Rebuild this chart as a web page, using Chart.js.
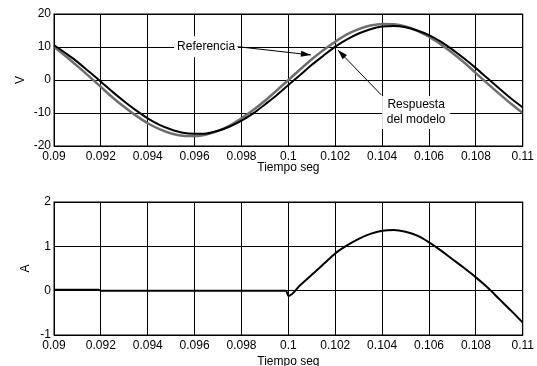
<!DOCTYPE html>
<html>
<head>
<meta charset="utf-8">
<script src="https://cdn.jsdelivr.net/npm/chart.js@4"></script>
<style>
  body { margin: 0; background: #fff; }
  #wrap { position: relative; width: 537px; height: 366px; }
  canvas { position: absolute; left: 0; }
</style>
</head>
<body>
<div id="wrap">
  <canvas id="top" width="537" height="180" style="top:0"></canvas>
  <canvas id="bottom" width="537" height="186" style="top:180px"></canvas>
</div>
<script>
'use strict';

// time axis (s) for the voltage plot
const tVolt = [0.09, 0.0905, 0.091, 0.0915, 0.092, 0.0925, 0.093, 0.0935, 0.094, 0.0945,
  0.095, 0.0955, 0.096, 0.0965, 0.097, 0.0975, 0.098, 0.0985, 0.099, 0.0995,
  0.1, 0.1005, 0.101, 0.1015, 0.102, 0.1025, 0.103, 0.1035, 0.104, 0.1045,
  0.105, 0.1055, 0.106, 0.1065, 0.107, 0.1075, 0.108, 0.1085, 0.109, 0.1095, 0.11];
// Referencia (gray)
const vRef = [10.0, 7.2, 4.2, 1.1, -2.1, -5.3, -8.2, -10.8, -13.1, -14.9,
  -16.2, -16.9, -17.0, -16.5, -15.4, -13.8, -11.6, -9.1, -6.3, -3.2,
  0, 3.2, 6.3, 9.1, 11.6, 13.8, 15.4, 16.5, 17.0, 16.9,
  16.2, 14.9, 13.1, 10.8, 8.2, 5.3, 2.1, -1.1, -4.2, -7.2, -10.0];
// Respuesta del modelo (black)
const vModel = [10.6, 8.1, 5.5, 2.5, -0.5, -3.6, -6.5, -9.2, -11.6, -13.6,
  -15.0, -16.0, -16.3, -16.2, -15.4, -14.1, -12.3, -10.1, -7.4, -4.6,
  -1.5, 1.5, 4.6, 7.4, 10.1, 12.3, 14.1, 15.4, 16.2, 16.4,
  16.0, 15.0, 13.6, 11.6, 9.2, 6.5, 3.6, 0.5, -2.6, -5.6, -8.3];

// current plot
const tCur = [0.09, 0.0919, 0.092, 0.0999, 0.1, 0.1005, 0.101, 0.1015, 0.102, 0.1025,
  0.103, 0.1035, 0.104, 0.1045, 0.105, 0.1055, 0.106, 0.1065, 0.107, 0.1075,
  0.108, 0.1085, 0.109, 0.1095, 0.11];
const iCur = [0.02, 0.02, 0, 0, -0.12, 0.12, 0.36, 0.6, 0.84, 1.02,
  1.17, 1.28, 1.35, 1.37, 1.33, 1.24, 1.09, 0.91, 0.71, 0.51,
  0.30, 0.07, -0.19, -0.45, -0.72];

const xTicks = [0.09, 0.092, 0.094, 0.096, 0.098, 0.1, 0.102, 0.104, 0.106, 0.108, 0.11];
const vTicks = [-20, -10, 0, 10, 20];
const aTicks = [-1, 0, 1, 2];

const FONT = '"Liberation Sans", Arial, sans-serif';

function pts(xs, ys) {
  return xs.map((x, i) => ({ x: x, y: ys[i] }));
}

// text notes with arrows, in data units
const notes = [
  { lines: ['Referencia'], at: [0.09649, 10.1], box: [64, 21],
    from: [0.09783, 10.1], to: [0.10096, 7.6] },
  { lines: ['Respuesta', 'del modelo'], at: [0.10545, -9.85], box: [68, 33],
    from: [0.10396, -4.5], to: [0.10211, 9.1] }
];

const notesPlugin = {
  id: 'notes',
  afterDatasetsDraw(chart) {
    const ctx = chart.ctx;
    const xs = chart.scales.x, ys = chart.scales.y;
    ctx.save();
    ctx.font = '12px ' + FONT;
    ctx.textAlign = 'center';
    ctx.textBaseline = 'middle';
    notes.forEach(n => {
      const cx = xs.getPixelForValue(n.at[0]);
      const cy = ys.getPixelForValue(n.at[1]);
      ctx.fillStyle = '#fff';
      ctx.fillRect(cx - n.box[0] / 2, cy - n.box[1] / 2, n.box[0], n.box[1]);
      ctx.fillStyle = '#000';
      const lh = 15;
      n.lines.forEach((s, i) => {
        ctx.fillText(s, cx, cy + (i - (n.lines.length - 1) / 2) * lh);
      });
      // arrow
      const x0 = xs.getPixelForValue(n.from[0]), y0 = ys.getPixelForValue(n.from[1]);
      const x1 = xs.getPixelForValue(n.to[0]), y1 = ys.getPixelForValue(n.to[1]);
      ctx.strokeStyle = '#000';
      ctx.lineWidth = 1;
      ctx.beginPath();
      ctx.moveTo(x0, y0);
      ctx.lineTo(x1, y1);
      ctx.stroke();
      const a = Math.atan2(y1 - y0, x1 - x0);
      const len = 10, w = 3;
      ctx.beginPath();
      ctx.moveTo(x1, y1);
      ctx.lineTo(x1 - len * Math.cos(a) - w * Math.sin(a), y1 - len * Math.sin(a) + w * Math.cos(a));
      ctx.lineTo(x1 - len * Math.cos(a) + w * Math.sin(a), y1 - len * Math.sin(a) - w * Math.cos(a));
      ctx.closePath();
      ctx.fill();
    });
    ctx.restore();
  }
};

function axes(yTicks, yMin, yMax, yTitle, yTitlePad, xHeight, xTitlePad) {
  return {
    x: {
      type: 'linear',
      min: 0.09,
      max: 0.11,
      afterBuildTicks: s => { s.ticks = xTicks.map(v => ({ value: v })); },
      afterFit: s => { s.height = xHeight; },
      grid: { color: '#000', lineWidth: 1, drawTicks: false },
      border: { color: '#000', width: 1 },
      ticks: {
        color: '#000', padding: 3, maxRotation: 0, autoSkip: false,
        font: { family: FONT, size: 12 },
        callback: v => String(+v.toFixed(4))
      },
      title: {
        display: true, text: 'Tiempo seg', color: '#000',
        font: { family: FONT, size: 12 },
        padding: { top: 0, bottom: xTitlePad }
      }
    },
    y: {
      min: yMin,
      max: yMax,
      afterBuildTicks: s => { s.ticks = yTicks.map(v => ({ value: v })); },
      afterFit: s => { s.width = 54; },
      grid: { color: '#000', lineWidth: 1, drawTicks: false },
      border: { color: '#000', width: 1 },
      ticks: {
        color: '#000', padding: 3,
        font: { family: FONT, size: 12 }
      },
      title: {
        display: true, text: yTitle, color: '#000',
        font: { family: FONT, size: 12 },
        padding: { top: yTitlePad, bottom: 0 }
      }
    }
  };
}

const common = {
  responsive: false,
  animation: false,
  plugins: { legend: { display: false }, tooltip: { enabled: false } },
  elements: { point: { radius: 0 } }
};

// closed frame round the plot area
const boxPlugin = {
  id: 'box',
  afterDraw(chart) {
    const a = chart.chartArea, ctx = chart.ctx;
    ctx.save();
    ctx.strokeStyle = '#000';
    ctx.lineWidth = 1;
    ctx.strokeRect(a.left, a.top, a.right - a.left, a.bottom - a.top);
    ctx.restore();
  }
};

new Chart(document.getElementById('top'), {
  type: 'line',
  data: {
    datasets: [
      { label: 'Respuesta del modelo', data: pts(tVolt, vModel), borderColor: '#000',
        borderWidth: 2, cubicInterpolationMode: 'monotone' },
      { label: 'Referencia', data: pts(tVolt, vRef), borderColor: '#6e6e6e',
        borderWidth: 2.5, cubicInterpolationMode: 'monotone' }
    ]
  },
  options: Object.assign({}, common, {
    layout: { padding: { left: 0, right: 13, top: 14, bottom: 0 } },
    scales: axes(vTicks, -20, 20, 'V', 13, 34, 5)
  }),
  plugins: [notesPlugin, boxPlugin]
});

new Chart(document.getElementById('bottom'), {
  type: 'line',
  data: {
    datasets: [
      { label: 'A', data: pts(tCur, iCur), borderColor: '#000', borderWidth: 2,
        cubicInterpolationMode: 'monotone' }
    ]
  },
  options: Object.assign({}, common, {
    layout: { padding: { left: 0, right: 13, top: 22, bottom: 0 } },
    scales: axes(aTicks, -1, 2, 'A', 18, 31, -3)
  }),
  plugins: [boxPlugin]
});
</script>
</body>
</html>
